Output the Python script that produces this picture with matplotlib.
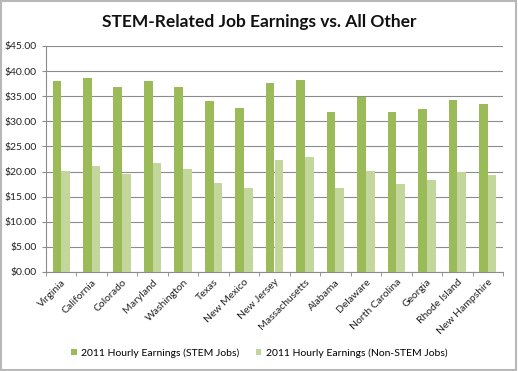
import matplotlib
matplotlib.use("Agg")
import matplotlib.pyplot as plt
import numpy as np
from matplotlib.ticker import FuncFormatter, FixedLocator

# values
states = ["Virginia", "California", "Colorado", "Maryland", "Washington", "Texas",
          "New Mexico", "New Jersey", "Massachusetts", "Alabama", "Delaware",
          "North Carolina", "Georgia", "Rhode Island", "New Hampshire"]
stem = [38.1, 38.7, 36.9, 38.1, 36.9, 34.1, 32.7, 37.7, 38.3, 31.9, 34.8, 31.9, 32.5, 34.3, 33.5]
non_stem = [20.1, 21.2, 19.6, 21.8, 20.6, 17.8, 16.8, 22.3, 22.8, 16.7, 20.2, 17.6, 18.4, 20.0, 19.4]
y_ticks = [0, 5, 10, 15, 20, 25, 30, 35, 40, 45]

plt.rcParams['font.family'] = ['Lato', 'DejaVu Sans']

fig = plt.figure(figsize=(5.18, 3.71), dpi=100)
ax = fig.add_axes([46/518, 1 - 272/371, 457/518, 226/371])

x = np.arange(len(states))
w = 1 / 3.5
ax.bar(x - w/2, stem, width=w, color="#9BBB59", label="2011 Hourly Earnings (STEM Jobs)", zorder=3)
ax.bar(x + w/2, non_stem, width=w, color="#C3D69B", label="2011 Hourly Earnings (Non-STEM Jobs)", zorder=3)

ax.set_xlim(-0.5, len(states) - 0.5)
ax.set_ylim(0, 45)
ax.set_yticks(y_ticks)
ax.yaxis.set_major_formatter(FuncFormatter(lambda v, p: f"${v:.2f}"))
ax.grid(axis="y", color="#8c8c8c", linewidth=0.8, zorder=0)

ax.set_xticks(x)
ax.set_xticklabels(states, rotation=45, ha="right", rotation_mode="anchor")
ax.xaxis.set_minor_locator(FixedLocator(np.arange(-0.5, len(states), 1)))
ax.tick_params(axis="x", which="major", length=0, labelsize=7.5, pad=4, colors="#222222")
ax.tick_params(axis="x", which="minor", length=3, color="#8c8c8c")
ax.tick_params(axis="y", length=3, color="#8c8c8c", labelsize=7.5, labelcolor="#222222")

for s in ["top", "right"]:
    ax.spines[s].set_visible(False)
ax.spines["left"].set_color("#8c8c8c")
ax.spines["bottom"].set_color("#8c8c8c")

fig.text(0.5, 1 - 22/371, "STEM-Related Job Earnings vs. All Other", ha="center", va="center",
         fontsize=12.5, fontweight="bold", color="#111111")

fig.legend(loc="center", bbox_to_anchor=(0.5, 1 - 353/371), ncol=2, frameon=False,
           fontsize=7.5, handlelength=0.55, handleheight=0.55, columnspacing=1.6, handletextpad=0.4)

# light border around the whole chart
fig.patches.append(plt.Rectangle((0.002, 0.003), 0.994, 0.994, transform=fig.transFigure,
                                 fill=False, edgecolor="#b8b8b8", linewidth=1.5))

fig.savefig("out.png", dpi=100)
